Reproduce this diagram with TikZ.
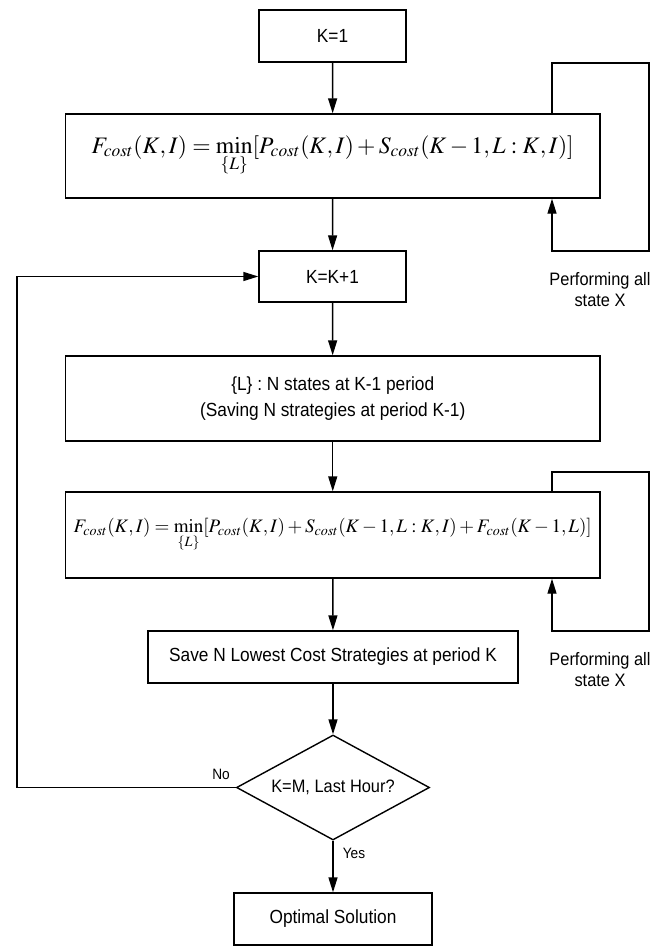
\documentclass[tikz,border=0pt]{standalone}
\usepackage{mathptmx}
\usepackage[no-math]{fontspec}
\usepackage{graphicx}
\usetikzlibrary{arrows.meta,shapes.geometric}
\newfontfamily\gul[FakeStretch=0.91]{Liberation Sans}
\tikzset{
  every picture/.style={x=1pt,y=-1pt},
  box/.style={draw,line width=1.4pt,inner sep=0pt,align=center,font=\fontsize{19}{26}\gul},
  dia/.style={draw,line width=1.4pt,diamond,inner sep=0pt,font=\fontsize{18}{22}\gul},
  lbl/.style={inner sep=0pt,align=center,font=\fontsize{18}{21}\gul},
  small/.style={inner sep=0pt,font=\fontsize{15}{18}\gul},
  conn/.style={line width=1.4pt,-{Triangle[length=15pt,width=9pt]}},
  plain/.style={line width=1.4pt},
}
\begin{document}
\begin{tikzpicture}
\useasboundingbox (0,0) rectangle (671,947);
\node[box,minimum width=147pt,minimum height=52pt] (k1) at (332.5,36) {K=1};
\node[box,minimum width=534.5pt,minimum height=84pt] (f1) at (332.75,156)
  {\resizebox{482pt}{!}{$F_{cost}(K,I)=\min\limits_{\{L\}}[P_{cost}(K,I)+S_{cost}(K-1,L:K,I)]$}};
\node[box,minimum width=147pt,minimum height=51pt] (k2) at (332.5,276.5) {K=K+1};
\node[box,minimum width=534.5pt,minimum height=85pt] (lb) at (332.75,398.5)
  {\{L\} : N states at K-1 period\\(Saving N strategies at period K-1)};
\node[box,minimum width=534.5pt,minimum height=86pt] (f2) at (332.75,535)
  {\raisebox{-6pt}{\resizebox{518pt}{!}{$F_{cost}(K,I)=\min\limits_{\{L\}}[P_{cost}(K,I)+S_{cost}(K-1,L:K,I)+F_{cost}(K-1,L)]$}}};
\node[box,minimum width=370pt,minimum height=52pt] (sv) at (333,657) {Save N Lowest Cost Strategies at period K};
\node[dia,minimum width=193pt,minimum height=105pt,aspect=1.84] (dc) at (333,787.5) {K=M, Last Hour?};
\node[box,minimum width=198pt,minimum height=52pt] (op) at (333,919) {Optimal Solution};
\node[lbl] (p1) at (600,290) {Performing all\\state X};
\node[lbl] (p2) at (600,670) {Performing all\\state X};
\node[small] (no) at (221,774) {No};
\node[small] (yes) at (354,853) {Yes};
\coordinate (a1) at (552,63);
\coordinate (a2) at (649,63);
\coordinate (a3) at (649,251);
\coordinate (a4) at (552,251);
\coordinate (b1) at (552,472);
\coordinate (b2) at (649,472);
\coordinate (b3) at (649,631);
\coordinate (b4) at (552,631);
\coordinate (c1) at (17,787.5);
\coordinate (c2) at (17,276.5);
\draw[conn] (k1) -- (f1);
\draw[conn] (f1) -- (k2);
\draw[conn] (k2) -- (lb);
\draw[conn] (lb) -- (f2);
\draw[conn] (f2) -- (sv);
\draw[conn] (sv) -- (dc);
\draw[conn] (dc) -- (op);
\draw[conn] (f1.north -| a1) -- (a1) -- (a2) -- (a3) -- (a4) -- (f1.south -| a4);
\draw[conn] (f2.north -| b1) -- (b1) -- (b2) -- (b3) -- (b4) -- (f2.south -| b4);
\draw[conn] (dc.west) -- (c1) -- (c2) -- (k2.west);
\end{tikzpicture}
\end{document}
